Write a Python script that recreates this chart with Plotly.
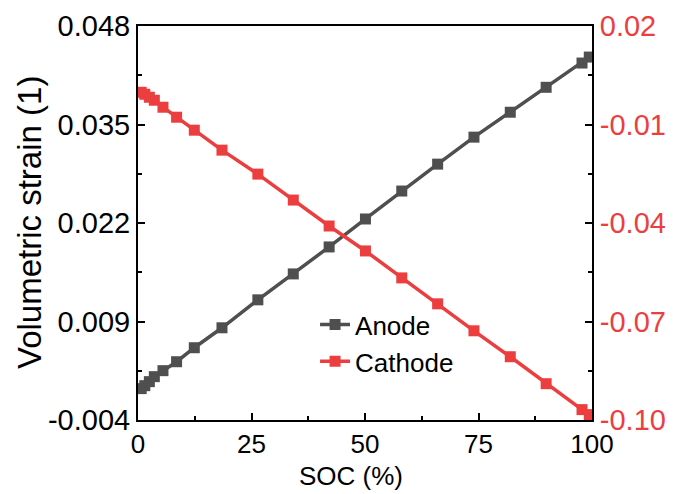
import plotly.graph_objects as go

soc = [0.7, 1.5, 2.5, 3.6, 5.5, 8.5, 12.4, 18.5, 26.4, 34.2, 42.1, 50.1, 58.1, 66.0, 74.0, 82.0, 89.9, 97.8, 99.4]
anode = [0.00014, 0.00053, 0.00106, 0.00172, 0.00251, 0.00369, 0.00554, 0.00817, 0.01186, 0.01528,
         0.01884, 0.02253, 0.02622, 0.02977, 0.03333, 0.03662, 0.03991, 0.04311, 0.0439]
cathode = [-0.00018, -0.00079, -0.0017, -0.00261, -0.00474, -0.00778, -0.01173, -0.01781, -0.02511, -0.03301,
           -0.04091, -0.04851, -0.05672, -0.06462, -0.07283, -0.08073, -0.08894, -0.09684, -0.09836]

x_ticks = [0, 25, 50, 75, 100]
left_ticks = [-0.004, 0.009, 0.022, 0.035, 0.048]
left_text = ["-0.004", "0.009", "0.022", "0.035", "0.048"]
right_ticks = [-0.1, -0.07, -0.04, -0.01, 0.02]
right_text = ["-0.10", "-0.07", "-0.04", "-0.01", "0.02"]

GRAY = "#4f4f4f"
RED = "#ec3e3e"
FONT = "Liberation Sans, Arial, sans-serif"

fig = go.Figure()
fig.add_trace(go.Scatter(x=soc, y=anode, name="Anode", mode="lines+markers",
                         line=dict(color=GRAY, width=3.5),
                         marker=dict(symbol="square", size=11, color=GRAY)))
fig.add_trace(go.Scatter(x=soc, y=cathode, name="Cathode", mode="lines+markers", yaxis="y2",
                         line=dict(color=RED, width=3.5),
                         marker=dict(symbol="square", size=11, color=RED)))

fig.update_layout(
    width=673, height=494,
    margin=dict(l=130, r=89, t=18, b=82),
    paper_bgcolor="white", plot_bgcolor="white",
    font=dict(family=FONT, size=28, color="black"),
    showlegend=True,
    legend=dict(x=0.39, y=0.195, xanchor="left", yanchor="middle",
                bgcolor="rgba(0,0,0,0)", font=dict(size=26), tracegroupgap=0),
    xaxis=dict(range=[0, 100], tickvals=x_ticks, ticks="inside", ticklen=7, tickwidth=2,
               tickcolor="black", showline=True, linecolor="black", linewidth=2, mirror=True,
               showgrid=False, zeroline=False, automargin=False,
               minor=dict(dtick=12.5, tick0=0, ticks="inside", ticklen=4, tickwidth=2, tickcolor="black"),
               tickfont=dict(size=26)),
    yaxis=dict(range=[-0.004, 0.048], tickvals=left_ticks, ticktext=left_text, ticks="inside",
               ticklen=7, tickwidth=2, tickcolor="black", showline=True, linecolor="black", linewidth=2,
               showgrid=False, zeroline=False, automargin=False,
               minor=dict(dtick=0.0065, tick0=-0.004, ticks="inside", ticklen=4, tickwidth=2, tickcolor="black"),
               tickfont=dict(size=29)),
    yaxis2=dict(range=[-0.1, 0.02], tickvals=right_ticks, ticktext=right_text, overlaying="y", side="right",
                ticks="inside", ticklen=7, tickwidth=2, tickcolor="black", showline=True,
                linecolor="black", linewidth=2, showgrid=False, zeroline=False, automargin=False,
                minor=dict(dtick=0.015, tick0=-0.1, ticks="inside", ticklen=4, tickwidth=2, tickcolor="black"),
                tickfont=dict(size=29, color=RED)),
    annotations=[
        dict(text="Volumetric strain (1)", xref="paper", yref="paper", x=-0.24, y=0.5,
             xanchor="center", yanchor="middle", textangle=-90, showarrow=False,
             font=dict(size=33)),
        dict(text="SOC (%)", xref="paper", yref="paper", x=0.47, y=-0.142,
             xanchor="center", yanchor="middle", showarrow=False, font=dict(size=26)),
    ],
)

fig.write_html("out.html")
